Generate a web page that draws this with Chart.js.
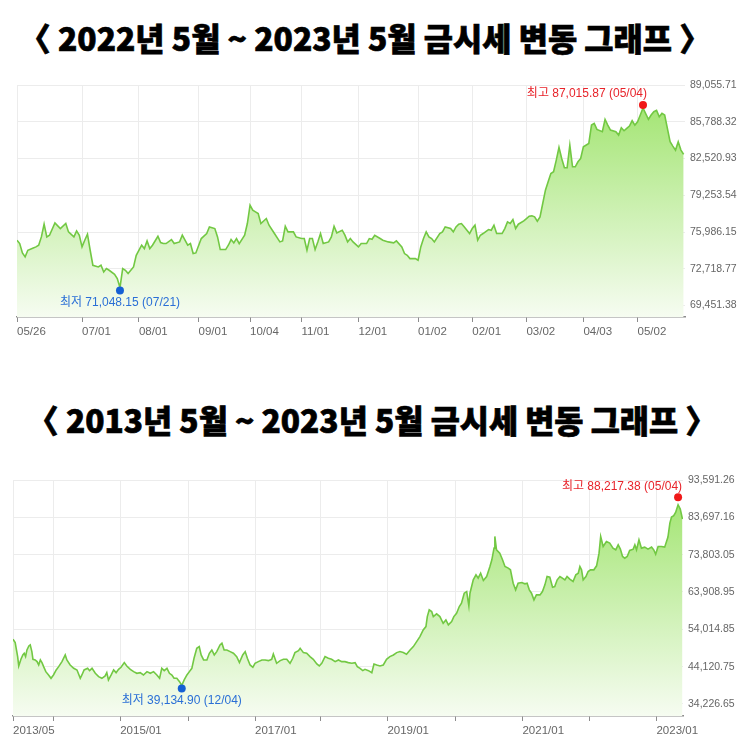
<!DOCTYPE html>
<html><head><meta charset="utf-8">
<script src="https://cdn.jsdelivr.net/npm/chart.js@4.4.0/dist/chart.umd.min.js"></script>
<style>
html,body{margin:0;padding:0;background:#fff;width:756px;height:756px;overflow:hidden;}
.title{position:absolute;left:0;top:0;white-space:nowrap;font-family:"Noto Sans CJK KR",sans-serif;font-weight:900;font-size:32px;color:#000;line-height:1;transform-origin:0 0;-webkit-text-stroke:0.7px #000;}
canvas{position:absolute;left:0;}
</style></head><body>
<div id="t1" class="title">〈 2022년 5월 ~ 2023년 5월 금시세 변동 그래프 〉</div>
<div id="t2" class="title">〈 2013년 5월 ~ 2023년 5월 금시세 변동 그래프 〉</div>
<canvas id="c1" width="756" height="290" style="top:60px"></canvas>
<canvas id="c2" width="756" height="306" style="top:450px"></canvas>
<script>
// ---------- Chart 1 : 2022/05 ~ 2023/05 (x = trading-day index) ----------
const days1 = [0,1,2,3,4,6,7,8,9,10,11,12,14,16,18,19,21,22,23,24,25,26,27,28,30,31,32,33,34,36,37,38,39,40,41,43,44,46,47,48,49,50,52,53,54,55,57,58,60,61,63,64,65,66,68,70,71,73,74,75,77,78,79,80,81,82,84,85,86,87,88,89,90,92,93,95,97,98,99,100,102,103,105,106,107,108,109,110,111,112,113,115,116,117,118,120,121,122,123,124,126,127,129,130,131,132,134,
135,137,139,140,142,143,144,145,147,148,149,150,151,152,153,154,156,157,158,160,161,162,163,164,165,167,168,169,170,171,172,174,175,176,177,179,180,181,182,183,184,185,187,188,189,190,191,192,193,194,195,196,197,198,199,200,201,202,203,204,205,206,207,208,209,211,212,213,214,216,217,218,219,221,222,223,224,225,226,227,228,229,230,231,233,234,235,236,237,238,239,240,241,242,243,244,245,246];
const prices1 = [75256,74959,74128,73772,74365,74573,74662,74811,75552,76680,75552,75701,76799,76294,76740,75998,75552,76087,75701,74662,75256,75790,74365,73030,72882,73030,72436,72733,72585,72229,71843,71048.15,72733,72585,72288,72882,73920,74811,74514,75196,74514,74811,75612,75048,74959,74959,75315,74959,75107,75701,74811,74959,74069,74128,75404,75849,76443,76294,75552,74425,74425,74811,75315,75018,75404,74959,75701,76740,78372,77927,77778,77630,76740,77185,76591,75849,75107,75196,76502,75998,75998,75552,75404,75404,74365,75404,75404,74425,75107,75849,74959,75107,75552,76502,75909,76146,75701,75107,75404,75107,74662,74959,74959,75404,75344,75701,75404,
75256,75107,75018,75196,74662,74069,73920,73623,73623,73475,74662,75404,75998,75552,75404,75107,75849,75998,76443,76294,75998,76443,76680,76740,76443,75849,76294,76591,75256,75701,75849,76205,76146,76591,75849,75849,76294,76888,76740,77096,76294,76680,76977,77185,77392,77422,77333,76947,77333,78520,79707,80449,81191,81340,82378,83506,82527,81696,81696,83714,81785,81785,82230,82527,83565,83862,85494,85643,85108,84901,85999,85494,85049,84901,84604,85257,84990,85198,85405,85880,85494,85791,86385,87015.87,85999,86385,86681,86800,86236,86533,86385,85198,84010,83625,83269,84010,83269,82883];
const xTicks1 = [0,24,45,67,86,105,126,148,168,188,209,229];
const xTickLabels1 = ['05/26','07/01','08/01','09/01','10/04','11/01','12/01','01/02','02/01','03/02','04/03','05/02'];
const yTicks1 = [69451.38,72718.77,75986.15,79253.54,82520.93,85788.32,89055.71];
const yRange1 = [68430, 89055.71];
const xRange1 = [0, 246.5];
const extremeDays1 = [231, 38];
const extremePrices1 = [87015.87, 71048.15];
const extremeDates1 = ['05/04', '07/21'];

// ---------- Chart 2 : 2013/05 ~ 2023/05 ----------
const days2 = [0,8,17,21,29,36,41,46,51,58,63,69,73,81,88,94,100,106,112,120,130,139,148,158,167,179,191,197,209,222,234,246,252,260,273,280,289,301,313,325,337,343,349,359,368,377,386,395,407,416,429,441,453,465,477,490,502,514,526,536,544,553,563,572,581,589,599,609,617,626,636,645,654,662,672,681,688,697,709,718,727,736,745,757,764,772,782,794,806,818,828,840,849,857,867,877,885,897,910,922,934,946,952,964,977,989,1001,1013,1023,1031,1044,1050,1062,1074,1086,1098,1111,1120,1129,1141,1153,1165,1178,1190,1202,1214,1226,1239,1251,1259,1269,1279,1287,1300,1312,1320,1330,1342,
1354,1366,1378,1391,1403,1415,1427,1439,1452,1464,1476,1488,1500,1510,1515,1522,1531,1537,1549,1561,1573,1583,1592,1604,1612,1622,1632,1640,1650,1659,1667,1671,1683,1693,1701,1710,1720,1732,1744,1751,1759,1762,1768,1780,1790,1799,1811,1819,1829,1838,1847,1860,1872,1880,1888,1896,1905,1914,1927,1936,1945,1953,1963,1973,1981,1990,2000,2009,2018,2026,2036,2048,2058,2067,2073,2079,2085,2095,2103,2112,2124,2134,2143,2149,2158,2170,2182,2194,2204,2213,2221,2229,2237,2246,2255,2268,2274,2280,2289,2298,2310,2322,2335,2343,2350,2359,2371,2383,2395,2402,2408,2416,2423,2432,2440,2448];
const prices2 = [51382,50497,46782,44305,46074,47224,47666,46782,48551,49613,49878,48109,46074,45897,45455,44570,45897,45189,44128,42801,41916,41031,41916,43243,44128,45455,47224,45897,44570,43685,43243,41031,41916,43243,43685,43066,43685,42358,41473,41031,41650,42535,40589,41916,43243,42535,43420,43951,45189,44305,43420,42801,42358,42535,41916,42801,42358,42801,41916,41031,43685,43066,43685,42358,41916,41031,41031,40146,39134.90,40589,41916,42801,43685,46339,48993,49436,47224,45897,45897,47666,48551,47224,48109,49878,50320,48551,48551,48109,47666,46782,45189,47224,48109,46339,44570,43951,45012,45455,45897,45897,45720,46074,47489,45012,45720,46074,46074,45012,46339,47843,48374,48993,47843,47666,46782,46074,44835,44305,45012,46782,46339,46074,45455,45897,45455,45455,45189,45012,45189,44128,43685,43066,43420,43066,42535,44835,44570,44305,
44570,46074,46782,47224,47843,48109,47843,47401,48551,49436,50763,52090,53859,54744,57398,59167,58725,57398,58106,57398,55629,56513,55186,56071,57398,58283,60052,60937,63591,64033,60229,63591,67130,68457,67572,68899,66953,68014,70669,72438,75534,78631,75092,74207,72438,70669,70226,69784,66245,64476,66245,66422,66068,66245,64476,63591,61822,63149,63149,64033,65803,68014,67838,65183,65360,67130,68014,67572,67130,68014,67307,66687,68457,68899,70669,69784,67130,68014,69342,69784,69784,70846,74207,78631,75977,77304,76861,75534,75092,76419,75269,73323,72880,73323,74915,75269,76419,75092,77746,75534,75800,75269,75800,75092,73942,75977,75977,75800,78454,82170,83762,84116,85001,87036,85885,83231];
const xTicks2 = [0,148,392,642,885,1125,1369,1619,1863,2107,2353];
const xTickLabels2 = ['2013/05','','2015/01','','2017/01','','2019/01','','2021/01','','2023/01'];
const yTicks2 = [34226.65,44120.75,54014.85,63908.95,73803.05,83697.16,93591.26];
const yRange2 = [31042, 93591.26];
const xRange2 = [0, 2450];
const extremeDays2 = [2432, 617];
const extremePrices2 = [88217.38, 39134.90];
const extremeDates2 = ['05/04', '12/04'];

// ---------- helpers ----------
const LABEL_FONT = '"Liberation Sans", "Noto Sans CJK KR", sans-serif';
function fmt(v){ return Number(v).toLocaleString('en-US',{minimumFractionDigits:2, maximumFractionDigits:2}); }

const hiLoPlugin = {
  id:'hilo',
  afterDatasetsDraw(chart, args, o){
    const ctx = chart.ctx, xs = chart.scales.x, ys = chart.scales.y;
    ctx.save();
    ctx.font = '12px ' + LABEL_FONT;
    ctx.textBaseline = 'middle';
    // high
    let px = xs.getPixelForValue(o.days[0]), py = ys.getPixelForValue(o.prices[0]) - 3;
    ctx.fillStyle = '#f01818';
    ctx.beginPath(); ctx.arc(px, py, 4, 0, Math.PI*2); ctx.fill();
    ctx.fillStyle = '#e8232a'; ctx.textAlign = 'right';
    ctx.fillText('최고 ' + fmt(o.prices[0]) + ' (' + o.dates[0] + ')', px + 4, py - 11);
    // low
    px = xs.getPixelForValue(o.days[1]); py = ys.getPixelForValue(o.prices[1]) + 3;
    ctx.fillStyle = '#1560d4';
    ctx.beginPath(); ctx.arc(px, py, 4, 0, Math.PI*2); ctx.fill();
    ctx.fillStyle = '#2a6fd6'; ctx.textAlign = 'center';
    ctx.fillText('최저 ' + fmt(o.prices[1]) + ' (' + o.dates[1] + ')', px, py + 12);
    ctx.restore();
  }
};

function makeChart(id, days, prices, xTicks, xTickLabels, yTicks, yRange, xRange, exD, exP, exDates, pad, axisH, axisW){
  return new Chart(document.getElementById(id), {
    type:'line',
    data:{ datasets:[{
      data: days.map((d,i)=>({x:d, y:prices[i]})),
      borderColor:'#72c843', borderWidth:1.6, pointRadius:0, tension:0,
      fill:'start',
      backgroundColor(c){
        const a = c.chart.chartArea; if(!a) return 'rgba(0,0,0,0)';
        const g = c.chart.ctx.createLinearGradient(0, a.top, 0, a.bottom);
        g.addColorStop(0, '#9ce368'); g.addColorStop(1, '#f6fcf1');
        return g;
      }
    }]},
    plugins:[hiLoPlugin],
    options:{
      animation:false, responsive:false, events:[],
      layout:{padding:{left:pad.left, top:pad.top, right:0, bottom:0}},
      plugins:{legend:{display:false}, tooltip:{enabled:false}, hilo:{days:exD, prices:exP, dates:exDates}},
      scales:{
        x:{type:'linear', min:xRange[0], max:xRange[1],
          afterBuildTicks(s){ s.ticks = xTicks.map(v=>({value:v})); },
          afterFit(s){ s.height = axisH; },
          grid:{color:'#ececec', lineWidth:1, drawTicks:true, tickLength:5, tickColor:'#8c8c8c'},
          border:{display:true, color:'#8c8c8c', width:1.5},
          ticks:{autoSkip:false, maxRotation:0, minRotation:0, align:'start', padding:3, color:'#666',
            font:{size:11.5, family:LABEL_FONT},
            callback(v){ const i = xTicks.indexOf(v); return i>=0 ? xTickLabels[i] : ''; }}
        },
        y:{position:'right', min:yRange[0], max:yRange[1],
          afterBuildTicks(s){ s.ticks = yTicks.map(v=>({value:v})); },
          afterFit(s){ s.width = axisW; },
          grid:{color:'#ececec', drawTicks:false},
          border:{display:false},
          ticks:{padding:5, color:'#666', font:{size:10.5, family:LABEL_FONT}, callback(v){ return fmt(v); }}
        }
      }
    }
  });
}

makeChart('c1', days1, prices1, xTicks1, xTickLabels1, yTicks1, yRange1, xRange1, extremeDays1, extremePrices1, extremeDates1, {left:17, top:25}, 33, 71);
makeChart('c2', days2, prices2, xTicks2, xTickLabels2, yTicks2, yRange2, xRange2, extremeDays2, extremePrices2, extremeDates2, {left:13, top:30}, 40, 73);

// fit titles to reference extents
function fitTitle(id, x0, x1, yc){
  const el = document.getElementById(id);
  const r = el.getBoundingClientRect();
  const s = (x1 - x0) / r.width;
  el.style.left = x0 + 'px';
  el.style.top = (yc - r.height/2) + 'px';
  el.style.transform = 'scaleX(' + s + ')';
}
fitTitle('t1', 19, 711, 37);
fitTitle('t2', 27, 717, 419);
</script>
</body></html>
